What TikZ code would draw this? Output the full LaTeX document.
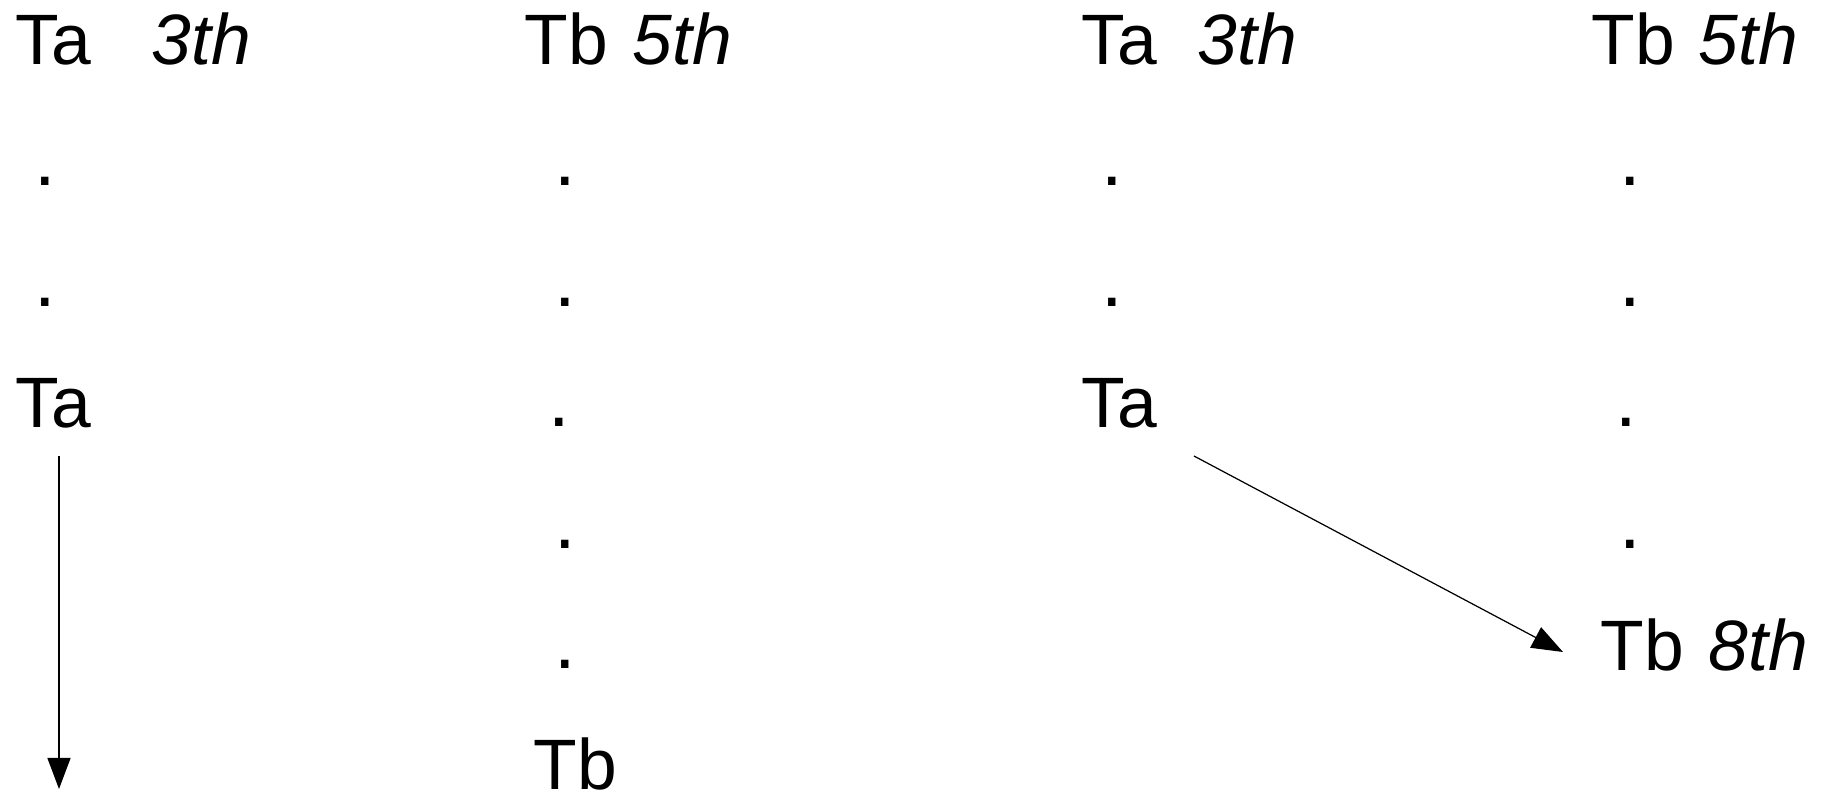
\documentclass[tikz,border=0pt]{standalone}
\usepackage{fontspec}
\setmainfont{Liberation Sans}
\usetikzlibrary{arrows.meta}
\begin{document}
\begin{tikzpicture}[x=0.01cm,y=-0.01cm,
  lbl/.style={anchor=base west,inner sep=0pt,font=\fontsize{20.3}{24}\selectfont},
  dotlbl/.style={anchor=base,inner sep=0pt,font=\fontsize{22}{24}\selectfont},
  conn/.style={line width=0.35pt,-{Triangle[length=3.1mm,width=2.3mm]}}]
\useasboundingbox (0,0) rectangle (1826,793);
% column 1
\node[lbl] (c1ta) at (15,64) {Ta};
\node[lbl] (c1th) at (151,64) {\textit{3th}};
\node[dotlbl] (c1d1) at (45,185) {.};
\node[dotlbl] (c1d2) at (45,306) {.};
\node[lbl] (c1ta2) at (15,427) {Ta};
\coordinate (a1s) at (59,456);
\coordinate (a1e) at (59,789);
\draw[conn] (a1s) -- (a1e);
% column 2
\node[lbl] (c2tb) at (524,64) {Tb};
\node[lbl] (c2th) at (632,64) {\textit{5th}};
\node[dotlbl] (c2d1) at (565,185) {.};
\node[dotlbl] (c2d2) at (565,306) {.};
\node[dotlbl] (c2d3) at (559,426) {.};
\node[dotlbl] (c2d4) at (565,548) {.};
\node[dotlbl] (c2d5) at (565,668) {.};
\node[lbl] (c2tb2) at (533,789) {Tb};
% column 3
\node[lbl] (c3ta) at (1081,64) {Ta};
\node[lbl] (c3th) at (1197,64) {\textit{3th}};
\node[dotlbl] (c3d1) at (1112,185) {.};
\node[dotlbl] (c3d2) at (1112,306) {.};
\node[lbl] (c3ta2) at (1081,427) {Ta};
% column 4
\node[lbl] (c4tb) at (1591,64) {Tb};
\node[lbl] (c4th) at (1698,64) {\textit{5th}};
\node[dotlbl] (c4d1) at (1630,185) {.};
\node[dotlbl] (c4d2) at (1630,306) {.};
\node[dotlbl] (c4d3) at (1626,426) {.};
\node[dotlbl] (c4d4) at (1630,548) {.};
\node[lbl] (c4tb2) at (1600,670) {Tb};
\node[lbl] (c4th2) at (1708,670) {\textit{8th}};
\coordinate (a2s) at (1194,456);
\coordinate (a2e) at (1563,652);
\draw[conn] (a2s) -- (a2e);
\end{tikzpicture}
\end{document}
